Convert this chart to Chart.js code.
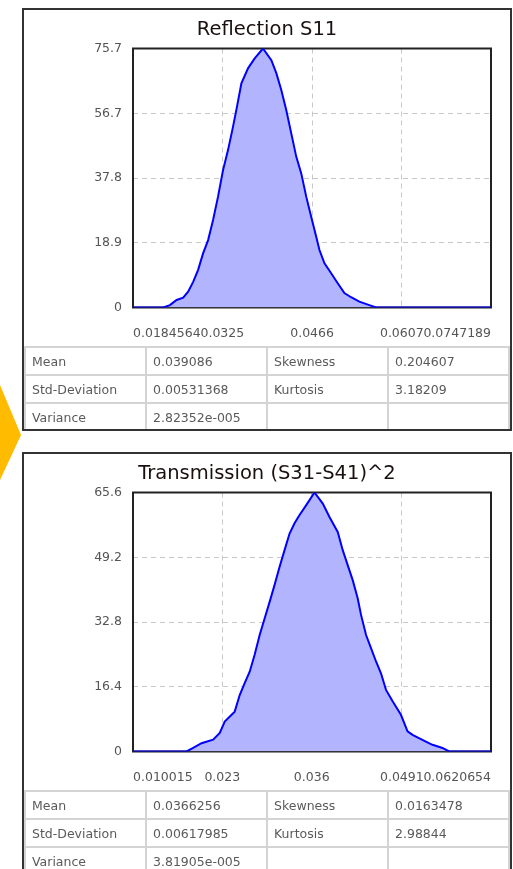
<!DOCTYPE html>
<html>
<head>
<meta charset="utf-8">
<script src="https://cdn.jsdelivr.net/npm/chart.js@4.4.1/dist/chart.umd.min.js"></script>
<style>
  html, body { margin: 0; padding: 0; background: #fff; width: 513px; height: 869px; overflow: hidden; }
  .panel { position: absolute; left: 22px; width: 486px; border: 2px solid #333; background: #fff; overflow: hidden; }
  .title { position: absolute; left: 0; top: 7px; width: 486px; height: 36px; line-height: 36px; text-align: center;
           font: 19.5px "DejaVu Sans", sans-serif; color: #1a1010; z-index: 2; }
  canvas { position: absolute; left: 0; top: 0; }
  table { position: absolute; left: 0; top: 336px; width: 486px; border-collapse: collapse; table-layout: fixed;
          font: 12.5px "DejaVu Sans", sans-serif; color: #5a5a5a; }
  td { border: 2px solid #d4d4d4; height: 26px; padding: 0 0 0 6px; white-space: nowrap; overflow: hidden; }
  #arrow { position: absolute; left: 0; top: 380px; }
</style>
</head>
<body>
<svg id="arrow" width="24" height="105"><polygon points="0,5 21,55 0,100" fill="#ffbb00"/></svg>

<div class="panel" style="top:8px;height:419px">
  <canvas id="c1" width="486" height="337"></canvas>
  <div class="title">Reflection S11</div>
  <table id="t1"></table>
</div>

<div class="panel" style="top:452px;height:430px">
  <canvas id="c2" width="486" height="337"></canvas>
  <div class="title">Transmission (S31-S41)^2</div>
  <table id="t2"></table>
</div>

<script>
// Reflection S11
const reflX = [0.0184564, 0.0232, 0.02426, 0.02531, 0.02634, 0.02712, 0.02791, 0.02869, 0.02947, 0.03026,
  0.03104, 0.03182, 0.03261, 0.03339, 0.03417, 0.03480, 0.03549, 0.03653, 0.03758, 0.03888,
  0.04020, 0.04098, 0.04176, 0.04254, 0.04333, 0.04411, 0.04490, 0.04568, 0.04646, 0.04725,
  0.04776, 0.04855, 0.04960, 0.05063, 0.05168, 0.05273, 0.05403, 0.05560, 0.05665, 0.0747189];
const reflY = [0, 0, 0.7, 2.2, 2.9, 4.6, 7.5, 11.0, 15.8, 19.7,
  25.6, 32.4, 40.2, 46.0, 52.8, 58.7, 65.5, 69.9, 72.8, 75.7,
  72.3, 68.5, 63.6, 57.7, 50.9, 44.1, 39.2, 32.4, 26.5, 20.7,
  16.8, 12.9, 10.0, 7.1, 4.2, 3.0, 1.7, 0.7, 0, 0];
const reflXTicks = [0.0184564, 0.0325, 0.0466, 0.0607, 0.0747189];
const reflYTicks = [0, 18.9, 37.8, 56.7, 75.7];
const reflStats = [
  ["Mean", "0.039086", "Skewness", "0.204607"],
  ["Std-Deviation", "0.00531368", "Kurtosis", "3.18209"],
  ["Variance", "2.82352e-005", "", ""]
];

// Transmission (S31-S41)^2
const transX = [0.010015, 0.01780, 0.01876, 0.01998, 0.02166, 0.02263, 0.02335, 0.02480, 0.02553, 0.02625,
  0.02698, 0.02770, 0.02843, 0.02915, 0.02988, 0.03060, 0.03133, 0.03205, 0.03278, 0.03350,
  0.03423, 0.03520, 0.03640, 0.03761, 0.03858, 0.03978, 0.04051, 0.04123, 0.04196, 0.04268,
  0.04317, 0.04390, 0.04462, 0.04535, 0.04607, 0.04680, 0.04776, 0.04897, 0.04993, 0.05066,
  0.05260, 0.05356, 0.05501, 0.05598, 0.0620654];
const transY = [0, 0, 0.9, 2.1, 3.0, 4.7, 7.6, 10.1, 14.3, 17.3,
  20.2, 24.5, 29.5, 33.7, 37.9, 42.2, 46.8, 51.0, 55.2, 57.8,
  59.9, 62.4, 65.6, 62.8, 59.4, 55.6, 51.0, 47.2, 43.4, 38.8,
  34.6, 29.5, 26.2, 22.8, 19.8, 15.6, 12.7, 9.3, 5.1, 4.2,
  2.5, 1.7, 0.9, 0, 0];
const transXTicks = [0.010015, 0.023, 0.036, 0.0491, 0.0620654];
const transYTicks = [0, 16.4, 32.8, 49.2, 65.6];
const transStats = [
  ["Mean", "0.0366256", "Skewness", "0.0163478"],
  ["Std-Deviation", "0.00617985", "Kurtosis", "2.98844"],
  ["Variance", "3.81905e-005", "", ""]
];

// black frame round the plot area, under the curve
const frame = {
  id: "frame",
  beforeDatasetsDraw(chart) {
    const a = chart.chartArea, ctx = chart.ctx;
    ctx.save();
    ctx.strokeStyle = "#222";
    ctx.lineWidth = 2;
    ctx.strokeRect(a.left, a.top, a.right - a.left, a.bottom - a.top);
    ctx.restore();
  }
};

const tickFont = { family: "DejaVu Sans", size: 12.5 };

function makeChart(id, xs, ys, xTicks, yTicks) {
  const pts = xs.map((x, i) => ({ x: x, y: ys[i] }));
  return new Chart(document.getElementById(id), {
    type: "scatter",
    data: {
      datasets: [{
        data: pts,
        showLine: true,
        fill: "origin",
        borderColor: "#0000ff",
        backgroundColor: "#b3b4fe",
        borderWidth: 2,
        pointRadius: 0,
        tension: 0
      }]
    },
    options: {
      responsive: false,
      animation: false,
      layout: { padding: { left: 0, right: 18, top: 38.5, bottom: 0 } },
      plugins: { legend: { display: false }, tooltip: { enabled: false } },
      scales: {
        x: {
          type: "linear",
          min: xTicks[0],
          max: xTicks[xTicks.length - 1],
          afterBuildTicks: s => { s.ticks = xTicks.map(v => ({ value: v })); },
          afterFit: s => { s.height = 39.5; },
          grid: { color: "#c8c8c8", lineWidth: 1, drawTicks: false },
          border: { display: false, dash: [5, 4] },
          ticks: {
            align: "inner", padding: 19, color: "#555", font: tickFont,
            maxRotation: 0, autoSkip: false, callback: v => String(v)
          }
        },
        y: {
          min: yTicks[0],
          max: yTicks[yTicks.length - 1],
          afterBuildTicks: s => { s.ticks = yTicks.map(v => ({ value: v })); },
          afterFit: s => { s.width = 109; },
          grid: { color: "#c8c8c8", lineWidth: 1, drawTicks: false },
          border: { display: false, dash: [5, 4] },
          ticks: { padding: 11, color: "#555", font: tickFont, autoSkip: false, callback: v => String(v) }
        }
      }
    },
    plugins: [frame]
  });
}

function fillTable(id, rows) {
  const t = document.getElementById(id);
  rows.forEach(r => {
    const tr = document.createElement("tr");
    tr.innerHTML = r.map(c => `<td>${c}</td>`).join("");
    t.appendChild(tr);
  });
}

makeChart("c1", reflX, reflY, reflXTicks, reflYTicks);
makeChart("c2", transX, transY, transXTicks, transYTicks);
fillTable("t1", reflStats);
fillTable("t2", transStats);
</script>
</body>
</html>
